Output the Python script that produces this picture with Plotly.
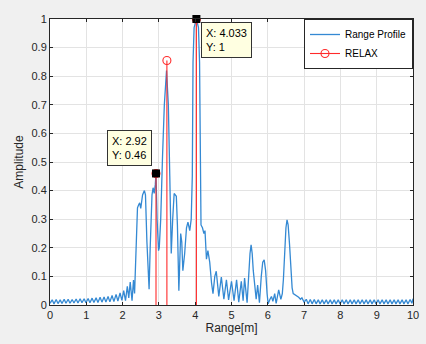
import plotly.graph_objects as go

# ---------------- data ----------------
range_x = [
    0.00, 0.06, 0.11, 0.17, 0.22, 0.28, 0.33, 0.39, 0.44, 0.50, 0.55, 0.61, 0.66, 0.72, 0.77, 0.83,
    0.88, 0.94, 0.99, 1.05, 1.10, 1.16, 1.21, 1.27, 1.32, 1.38, 1.43, 1.49, 1.54, 1.60, 1.65, 1.71,
    1.76, 1.82, 1.87, 1.93, 1.98,
    2.03, 2.08, 2.13, 2.17, 2.21, 2.26, 2.30, 2.33, 2.37, 2.41, 2.44, 2.47, 2.50, 2.55, 2.60, 2.63,
    2.67, 2.71, 2.73, 2.76, 2.81, 2.84, 2.87, 2.90, 2.92, 2.95, 2.99, 3.01, 3.05, 3.10, 3.15, 3.21,
    3.26, 3.30, 3.34, 3.38, 3.42, 3.48, 3.51, 3.55, 3.60, 3.63, 3.66, 3.71, 3.76, 3.80, 3.85, 3.89,
    3.92, 3.94, 3.97, 4.033, 4.09, 4.12, 4.14, 4.16, 4.20, 4.24, 4.27, 4.31, 4.35, 4.40, 4.45, 4.49,
    4.54, 4.58, 4.65, 4.72, 4.79, 4.86, 4.92, 5.00, 5.07, 5.14, 5.20, 5.27, 5.32, 5.36, 5.43, 5.47,
    5.51, 5.54, 5.57, 5.60, 5.64, 5.68, 5.72, 5.77, 5.82, 5.86, 5.90, 5.94, 5.98, 6.01, 6.06, 6.10,
    6.14, 6.19, 6.23, 6.30, 6.36, 6.40, 6.43, 6.46, 6.50, 6.53, 6.56, 6.60, 6.64, 6.67, 6.70, 6.75,
    6.80, 6.85, 6.90, 6.94, 7.00,
    7.06, 7.11, 7.17, 7.22, 7.28, 7.33, 7.39, 7.44, 7.50, 7.55, 7.61, 7.66, 7.72, 7.77, 7.83, 7.88,
    7.94, 7.99, 8.05, 8.10, 8.16, 8.21, 8.27, 8.32, 8.38, 8.43, 8.49, 8.54, 8.60, 8.65, 8.71, 8.76,
    8.82, 8.87, 8.93, 8.98, 9.04, 9.09, 9.15, 9.20, 9.26, 9.31, 9.37, 9.42, 9.48, 9.53, 9.59, 9.64,
    9.70, 9.75, 9.81, 9.86, 9.92, 9.97, 10.00,
]
range_y = [
    0.006, 0.018, 0.004, 0.019, 0.005, 0.018, 0.005, 0.020, 0.006, 0.020, 0.006, 0.019, 0.007, 0.021, 0.007, 0.022,
    0.008, 0.022, 0.008, 0.023, 0.008, 0.024, 0.009, 0.025, 0.009, 0.027, 0.010, 0.028, 0.010, 0.030, 0.011, 0.033,
    0.012, 0.037, 0.014, 0.042, 0.016,
    0.050, 0.015, 0.065, 0.025, 0.080, 0.015, 0.087, 0.040, 0.220, 0.340, 0.350, 0.357, 0.338, 0.385, 0.400, 0.385,
    0.220, 0.070, 0.055, 0.200, 0.385, 0.410, 0.390, 0.420, 0.460, 0.300, 0.190, 0.200, 0.300, 0.520, 0.700, 0.820,
    0.700, 0.450, 0.180, 0.300, 0.390, 0.380, 0.280, 0.050, 0.250, 0.220, 0.120, 0.180, 0.270, 0.290, 0.260, 0.300,
    0.450, 0.850, 0.970, 1.000, 0.970, 0.850, 0.450, 0.280, 0.270, 0.250, 0.260, 0.160, 0.190, 0.150, 0.077, 0.040,
    0.100, 0.118, 0.030, 0.098, 0.020, 0.088, 0.018, 0.083, 0.015, 0.088, 0.010, 0.083, 0.015, 0.094, 0.008, 0.100,
    0.180, 0.210, 0.180, 0.120, 0.080, 0.020, 0.070, 0.008, 0.100, 0.150, 0.158, 0.120, 0.040, 0.004, 0.020, 0.030,
    0.013, 0.040, 0.006, 0.053, 0.020, 0.040, 0.090, 0.180, 0.270, 0.298, 0.280, 0.210, 0.120, 0.060, 0.040, 0.036,
    0.032, 0.027, 0.020, 0.025, 0.010,
    0.020, 0.004, 0.019, 0.004, 0.019, 0.004, 0.018, 0.004, 0.018, 0.004, 0.018, 0.004, 0.018, 0.004, 0.018, 0.004,
    0.018, 0.004, 0.018, 0.004, 0.018, 0.004, 0.018, 0.004, 0.018, 0.004, 0.018, 0.004, 0.018, 0.004, 0.018, 0.004,
    0.018, 0.004, 0.018, 0.004, 0.018, 0.004, 0.018, 0.004, 0.018, 0.004, 0.018, 0.004, 0.018, 0.004, 0.018, 0.004,
    0.018, 0.004, 0.018, 0.004, 0.019, 0.006, 0.022,
]

relax_x = [2.92, 3.22, 4.033]
relax_y = [0.46, 0.855, 1.0]

tip_x = [2.92, 4.033]
tip_y = [0.46, 1.0]
tip_labels = ["X: 2.92<br>Y: 0.46", "X: 4.033<br>Y: 1"]

x_ticks = list(range(0, 11))
y_ticks = [0, 0.1, 0.2, 0.3, 0.4, 0.5, 0.6, 0.7, 0.8, 0.9, 1]

FONT = "Liberation Sans, Arial, Helvetica, sans-serif"
BLUE = "#3489d3"
RED = "#ff2a2a"
AX = "#262626"

fig = go.Figure()

fig.add_trace(go.Scatter(
    x=range_x, y=range_y, mode="lines", name="Range Profile",
    line=dict(color=BLUE, width=1.3), hoverinfo="skip",
))

# stems
stem_x, stem_y = [], []
for xv, yv in zip(relax_x, relax_y):
    stem_x += [xv, xv, None]
    stem_y += [0, yv, None]
fig.add_trace(go.Scatter(
    x=stem_x, y=stem_y, mode="lines", showlegend=False,
    line=dict(color=RED, width=1.1), hoverinfo="skip",
))
fig.add_trace(go.Scatter(
    x=relax_x, y=relax_y, mode="markers", showlegend=False,
    marker=dict(symbol="circle-open", size=8, color=RED, line=dict(width=1.1, color=RED)),
    hoverinfo="skip",
))
# legend entry for RELAX
fig.add_trace(go.Scatter(
    x=[None], y=[None], mode="lines+markers", name="RELAX",
    line=dict(color=RED, width=1.1),
    marker=dict(symbol="circle-open", size=8, color=RED, line=dict(width=1.1, color=RED)),
))
# data tips
fig.add_trace(go.Scatter(
    x=tip_x, y=tip_y, mode="markers", showlegend=False,
    marker=dict(symbol="square", size=8, color="black"), hoverinfo="skip", cliponaxis=False,
))

offsets = [dict(ax=-4, ay=-7, xanchor="right", yanchor="bottom"),
           dict(ax=5, ay=3, xanchor="left", yanchor="top")]
for xv, yv, txt, off in zip(tip_x, tip_y, tip_labels, offsets):
    fig.add_annotation(
        x=xv, y=yv, text=txt, showarrow=True, arrowcolor="rgba(0,0,0,0)", arrowwidth=0.1,
        ax=off["ax"], ay=off["ay"], xanchor=off["xanchor"], yanchor=off["yanchor"],
        align="left", bgcolor="#ffffe1", bordercolor="#333333", borderwidth=1, borderpad=4,
        font=dict(family=FONT, size=11, color="black"),
    )

fig.update_layout(
    width=426, height=344,
    margin=dict(l=50, r=13, t=19, b=39),
    paper_bgcolor="#f0f0f0", plot_bgcolor="white",
    font=dict(family=FONT, size=11, color=AX),
    showlegend=True,
    legend=dict(x=1, y=1, xanchor="right", yanchor="top", bgcolor="white",
                bordercolor=AX, borderwidth=1, font=dict(size=10, color="black"),
                tracegroupgap=0, itemwidth=30),
)
fig.update_xaxes(
    range=[0, 10], tickvals=x_ticks, ticktext=[str(v) for v in x_ticks],
    showgrid=True, gridcolor="#e3e3e3", gridwidth=1, zeroline=False,
    showline=True, linecolor=AX, linewidth=1, mirror="ticks",
    ticks="inside", ticklen=3, tickcolor=AX,
    title=dict(text="Range[m]", font=dict(size=12, color=AX), standoff=3),
    automargin=False,
)
fig.update_yaxes(
    range=[0, 1], tickvals=y_ticks, ticktext=[("%g" % v) for v in y_ticks],
    showgrid=True, gridcolor="#e3e3e3", gridwidth=1, zeroline=False,
    showline=True, linecolor=AX, linewidth=1, mirror="ticks",
    ticks="inside", ticklen=3, tickcolor=AX,
    title=dict(text="Amplitude", font=dict(size=12, color=AX), standoff=5),
    automargin=False,
)

fig.write_html(
    "out.html",
    config={"displayModeBar": False},
    post_script="document.body.style.margin='0';document.body.style.overflow='hidden';",
)
